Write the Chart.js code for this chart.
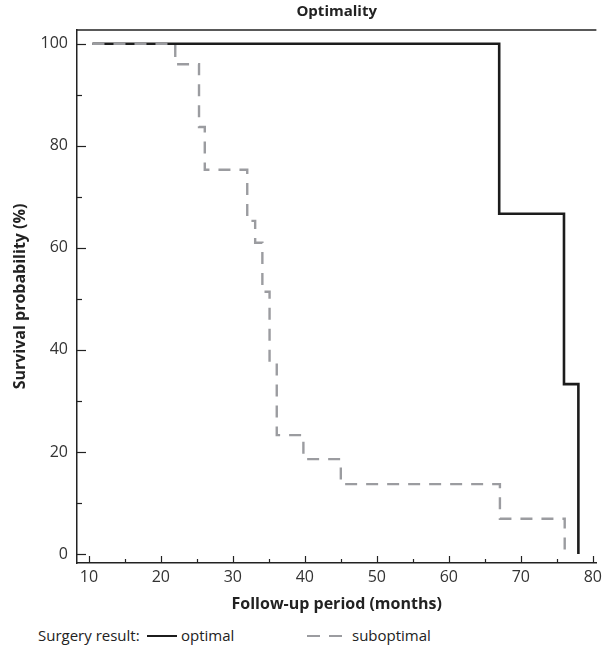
<!DOCTYPE html>
<html>
<head>
<meta charset="utf-8">
<script src="https://cdn.jsdelivr.net/npm/chart.js@4.4.1/dist/chart.umd.min.js"></script>
<style>
  html, body { margin: 0; padding: 0; background: #fff; }
  #wrap { position: relative; width: 607px; height: 646px; font-family: "Open Sans", Lato, sans-serif; }
  #box { position: absolute; left: 0; top: 0; width: 607px; height: 620px; }
  .lg { position: absolute; top: 624px; font-size: 15px; color: #222; line-height: 22px; white-space: nowrap; }
  .sw { position: absolute; height: 0; }
</style>
</head>
<body>
<div id="wrap">
  <div id="box"><canvas id="km"></canvas></div>
  <span class="lg" style="left:38px">Surgery result:</span>
  <span class="sw" style="left:147px; top:635px; width:30px; border-top:2.5px solid #1c1c1c"></span>
  <span class="lg" style="left:181px">optimal</span>
  <span class="sw" style="left:307px; top:635px; width:13px; border-top:2.5px solid #9b9ca0"></span>
  <span class="sw" style="left:329px; top:635px; width:13px; border-top:2.5px solid #9b9ca0"></span>
  <span class="lg" style="left:352px">suboptimal</span>
</div>
<script>
// Kaplan-Meier steps (months, % surviving after each event)
const optimalMonths = [10.5, 67, 76, 78];
const optimalSurvival = [100, 66.7, 33.3, 0];
const suboptimalMonths = [10.5, 22, 25.3, 26.1, 32, 33.1, 34.1, 35.1, 36.1, 39.8, 45, 67.1, 76.1];
const suboptimalSurvival = [100, 96, 83.7, 75.3, 65.3, 61, 51.4, 37.5, 23.3, 18.6, 13.7, 6.9, 0];

// axis ticks
const xMajorTicks = [10, 20, 30, 40, 50, 60, 70, 80];
const xMinorTicks = [15, 25, 35, 45, 55, 65, 75];
const yMajorTicks = [0, 20, 40, 60, 80, 100];
const yMinorTicks = [10, 30, 50, 70, 90];

const FONT = '"Open Sans", Lato, sans-serif';
const INK = '#222';

const toPoints = (xs, ys) => xs.map((x, i) => ({ x: x, y: ys[i] }));

// inward tick marks + top frame line
const frameTicks = {
  id: 'frameTicks',
  afterDraw(chart) {
    const { ctx, chartArea: a, scales: { x, y } } = chart;
    ctx.save();
    ctx.strokeStyle = INK;
    ctx.lineWidth = 1.5;
    ctx.beginPath();
    ctx.moveTo(a.left, a.top);
    ctx.lineTo(a.right, a.top);
    ctx.stroke();

    ctx.lineWidth = 1.2;
    const xTick = (v, len) => {
      const px = Math.round(x.getPixelForValue(v)) + 0.5;
      ctx.beginPath(); ctx.moveTo(px, a.bottom); ctx.lineTo(px, a.bottom - len); ctx.stroke();
    };
    const yTick = (v, len) => {
      const py = Math.round(y.getPixelForValue(v)) + 0.5;
      ctx.beginPath(); ctx.moveTo(a.left, py); ctx.lineTo(a.left + len, py); ctx.stroke();
    };
    xMajorTicks.forEach(v => xTick(v, 7));
    xMinorTicks.forEach(v => xTick(v, 4));
    yMajorTicks.forEach(v => yTick(v, 9));
    yMinorTicks.forEach(v => yTick(v, 5));
    ctx.restore();
  }
};

new Chart(document.getElementById('km'), {
  type: 'line',
  data: {
    datasets: [
      {
        label: 'optimal',
        data: toPoints(optimalMonths, optimalSurvival),
        borderColor: '#1c1c1c',
        borderWidth: 2.6,
        stepped: 'before',
        pointRadius: 0,
        fill: false,
        order: 2
      },
      {
        label: 'suboptimal',
        data: toPoints(suboptimalMonths, suboptimalSurvival),
        borderColor: '#9b9ca0',
        borderWidth: 2.4,
        borderDash: [12, 9],
        stepped: 'before',
        pointRadius: 0,
        fill: false,
        order: 1
      }
    ]
  },
  options: {
    responsive: true,
    maintainAspectRatio: false,
    animation: false,
    layout: { padding: { left: 0, right: 7, top: 0, bottom: 0 } },
    plugins: {
      legend: { display: false },
      tooltip: { enabled: false },
      title: {
        display: true,
        text: 'Optimality',
        fullSize: false,
        color: INK,
        font: { family: FONT, size: 15, weight: 'bold' },
        padding: { top: 3, bottom: 9 }
      }
    },
    scales: {
      x: {
        type: 'linear',
        min: 8.35,
        max: 80.5,
        afterBuildTicks: s => { s.ticks = xMajorTicks.map(v => ({ value: v })); },
        afterFit: s => { s.height = 57; },
        grid: { display: false, drawTicks: false },
        border: { display: true, color: INK, width: 1.5 },
        ticks: { color: '#333', padding: 5, maxRotation: 0, font: { family: FONT, size: 16 } },
        title: {
          display: true,
          text: 'Follow-up period (months)',
          color: INK,
          font: { family: FONT, size: 16, weight: 'bold' },
          padding: { top: 0, bottom: 6.4 }
        }
      },
      y: {
        type: 'linear',
        min: -1.76,
        max: 102.7,
        afterBuildTicks: s => { s.ticks = yMajorTicks.map(v => ({ value: v })); },
        afterFit: s => { s.width = 77; },
        grid: { display: false, drawTicks: false },
        border: { display: true, color: INK, width: 1.5 },
        ticks: { color: '#333', padding: 9, font: { family: FONT, size: 16 } },
        title: {
          display: true,
          text: 'Survival probability (%)',
          color: INK,
          font: { family: FONT, size: 16, weight: 'bold' },
          padding: { top: 10.4, bottom: 0 }
        }
      }
    }
  },
  plugins: [frameTicks]
});
</script>
</body>
</html>
